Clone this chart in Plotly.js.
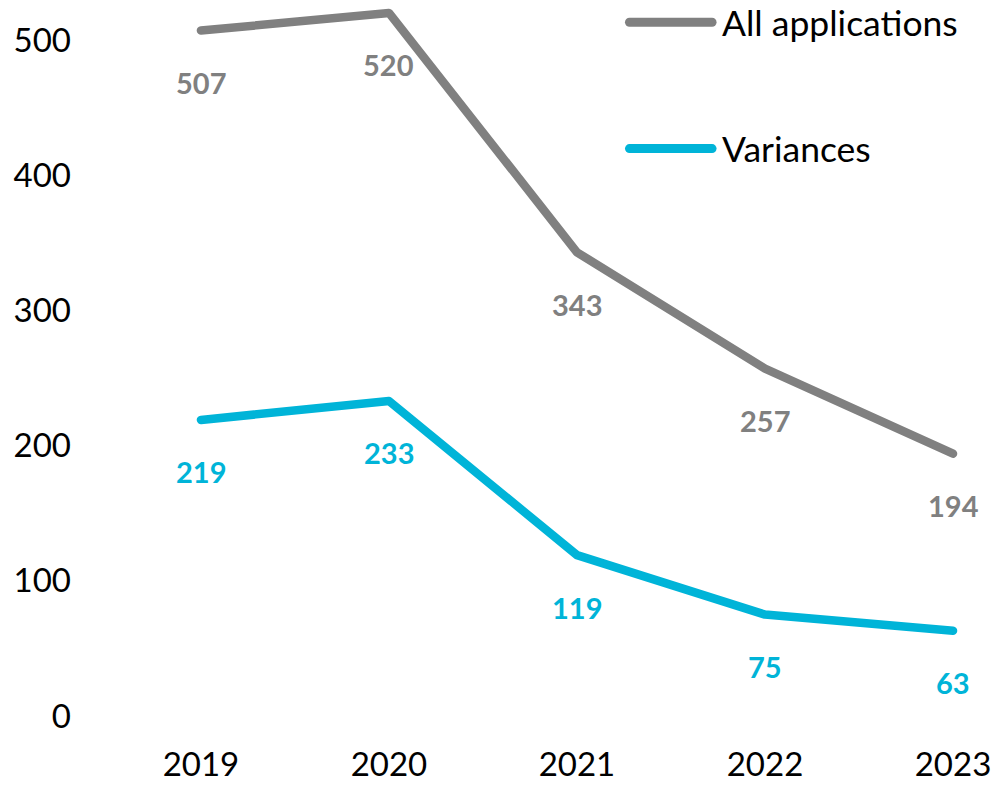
<!DOCTYPE html>
<html>
<head>
<meta charset="utf-8">
<script src="https://cdn.plot.ly/plotly-3.0.1.min.js"></script>
<style>
html,body{margin:0;padding:0;background:#fff;}
#chart{width:994px;height:786px;}
.scatterlayer path.js-line{stroke-linecap:round;stroke-linejoin:round;}
.shapelayer path{stroke-linecap:round;}
</style>
</head>
<body>
<div id="chart"></div>
<script>
const years = ["2019", "2020", "2021", "2022", "2023"];
const allApplications = [507, 520, 343, 257, 194];
const variances = [219, 233, 119, 75, 63];
const seriesNames = ["All applications", "Variances"];
const yTicks = [0, 100, 200, 300, 400, 500];

const GRAY = "#808080";
const CYAN = "#00B4D8";
const FONT = "Lato, 'Open Sans', sans-serif";

const xIdx = years.map((_, i) => i);

const traces = [
  {x: xIdx, y: allApplications, type: "scatter", mode: "lines", name: seriesNames[0],
   line: {color: GRAY, width: 8.5}, cliponaxis: false, hoverinfo: "skip"},
  {x: xIdx, y: variances, type: "scatter", mode: "lines", name: seriesNames[1],
   line: {color: CYAN, width: 8.5}, cliponaxis: false, hoverinfo: "skip"}
];

const annotations = [];
function addLabels(vals, color) {
  vals.forEach((v, i) => {
    annotations.push({x: i, y: v, xref: "x", yref: "y", text: String(v), showarrow: false,
      yshift: -52, xanchor: "center", yanchor: "middle",
      font: {family: FONT, size: 29, color: color, weight: "bold"}});
  });
}
addLabels(allApplications, GRAY);
addLabels(variances, CYAN);

// manual legend
const legendItems = [
  {name: seriesNames[0], color: GRAY, y: 0.969},
  {name: seriesNames[1], color: CYAN, y: 0.7925}
];
const shapes = [];
legendItems.forEach(it => {
  shapes.push({type: "line", xref: "paper", yref: "paper", x0: 0.5895, x1: 0.6825, y0: it.y, y1: it.y,
    line: {color: it.color, width: 9}});
  annotations.push({xref: "paper", yref: "paper", x: 0.6914, y: it.y, text: it.name, showarrow: false,
    xanchor: "left", yanchor: "middle", font: {family: FONT, size: 35.5, color: "#000"}});
});

const layout = {
  width: 994, height: 786,
  margin: {l: 106, r: 0, t: 0, b: 70, pad: 0},
  paper_bgcolor: "#fff", plot_bgcolor: "#fff",
  showlegend: false,
  font: {family: FONT, color: "#000"},
  xaxis: {
    range: [-0.505, 4.218], tickmode: "array", tickvals: xIdx, ticktext: years,
    showgrid: false, zeroline: false, showline: false, ticks: "",
    tickfont: {family: FONT, size: 33, color: "#000"}, ticklabelstandoff: 26
  },
  yaxis: {
    range: [0, 529.6], tickmode: "array", tickvals: yTicks,
    showgrid: false, zeroline: false, showline: false, ticks: "",
    tickfont: {family: FONT, size: 33, color: "#000"}, ticklabelstandoff: 34
  },
  annotations: annotations,
  shapes: shapes
};

Plotly.newPlot("chart", traces, layout, {displayModeBar: false, staticPlot: true});
</script>
</body>
</html>
